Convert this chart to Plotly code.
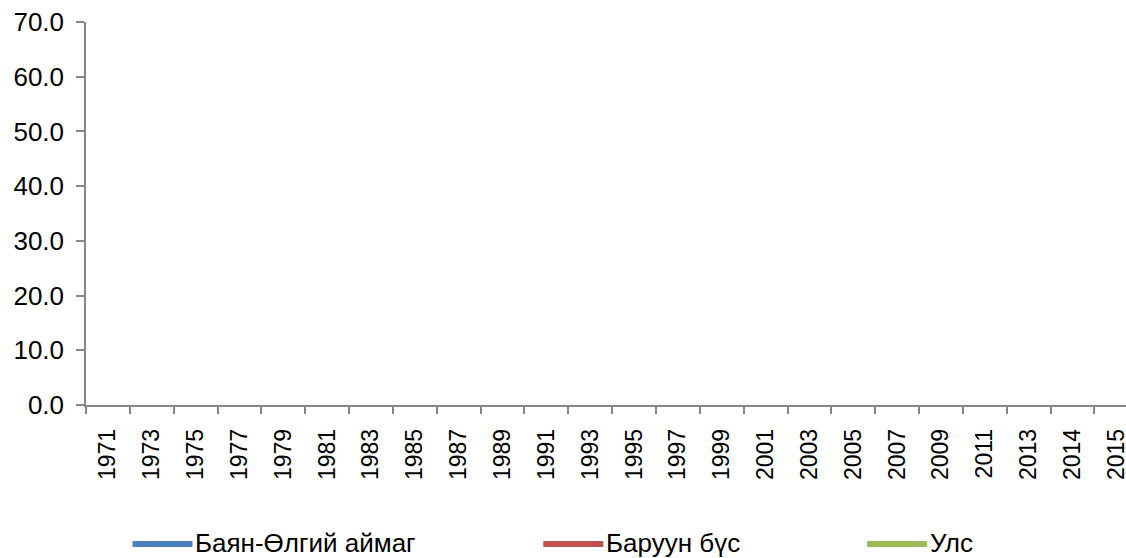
import plotly.graph_objects as go

years = ["1971", "1973", "1975", "1977", "1979", "1981", "1983", "1985", "1987", "1989",
         "1991", "1993", "1995", "1997", "1999", "2001", "2003", "2005", "2007", "2009",
         "2011", "2013", "2014", "2015"]
series_names = ["Баян-Өлгий аймаг", "Баруун бүс", "Улс"]
# The reference chart shows no plotted values (empty series)
bayan_olgii = [None] * len(years)
baruun_bus = [None] * len(years)
uls = [None] * len(years)
y_ticks = [0, 10, 20, 30, 40, 50, 60, 70]

colors = ["#4F81BD", "#C0504D", "#9BBB59"]
series = [bayan_olgii, baruun_bus, uls]

fig = go.Figure()
for name, vals, col in zip(series_names, series, colors):
    fig.add_trace(go.Scatter(x=years, y=vals, mode="lines", name=name,
                             line=dict(color=col, width=5), showlegend=False))

W, H = 1126, 558
L, T, B = 85.5, 22, 153
pw = W - L
ph = H - T - B

def px2x(px):
    return (px - L) / pw

def px2y(py):
    return (T + ph - py) / ph

# custom legend (long line samples like the reference)
legend_line_starts = [132, 543, 867]
legend_y = 543
shapes = []
annotations = []
for name, col, x0 in zip(series_names, colors, legend_line_starts):
    shapes.append(dict(type="line", xref="paper", yref="paper",
                       x0=px2x(x0), x1=px2x(x0 + 60), y0=px2y(legend_y + 1), y1=px2y(legend_y + 1),
                       line=dict(color=col, width=6)))
    annotations.append(dict(xref="paper", yref="paper", x=px2x(x0 + 61), y=px2y(legend_y),
                            xanchor="left", yanchor="middle", showarrow=False, text=name,
                            font=dict(family="Liberation Sans, Arial", size=26, color="#000000")))

fig.update_layout(
    width=W, height=H, autosize=False,
    margin=dict(l=L, r=0, t=T, b=B, pad=0, autoexpand=False),
    paper_bgcolor="white", plot_bgcolor="white",
    font=dict(family="Liberation Sans, Arial", size=23, color="#000000"),
    showlegend=False,
    shapes=shapes, annotations=annotations,
    xaxis=dict(type="category", categoryorder="array", categoryarray=years,
               range=[-0.5, 23.22], tickmode="array", tickvals=years, ticktext=years,
               tickangle=-90, ticks="outside", ticklen=7, tickwidth=1.5, tickcolor="#868686",
               tickson="boundaries", showline=True, linecolor="#868686", linewidth=1.5,
               showgrid=False, zeroline=False, ticklabelstandoff=13, automargin=False,
               tickfont=dict(family="Liberation Sans, Arial", size=23, color="#000000")),
    yaxis=dict(range=[0, 70], tickmode="array", tickvals=y_ticks,
               ticktext=[f"{v:.1f}" for v in y_ticks],
               ticks="outside", ticklen=8, tickwidth=1.5, tickcolor="#868686",
               showline=True, linecolor="#868686", linewidth=1.5,
               showgrid=False, zeroline=False, ticklabelstandoff=7, automargin=False,
               tickfont=dict(family="Liberation Sans, Arial", size=26, color="#000000")),
)

fig.write_html("out.html", config={"displayModeBar": False},
               post_script="document.body.style.margin='0';document.body.style.overflow='hidden';")
